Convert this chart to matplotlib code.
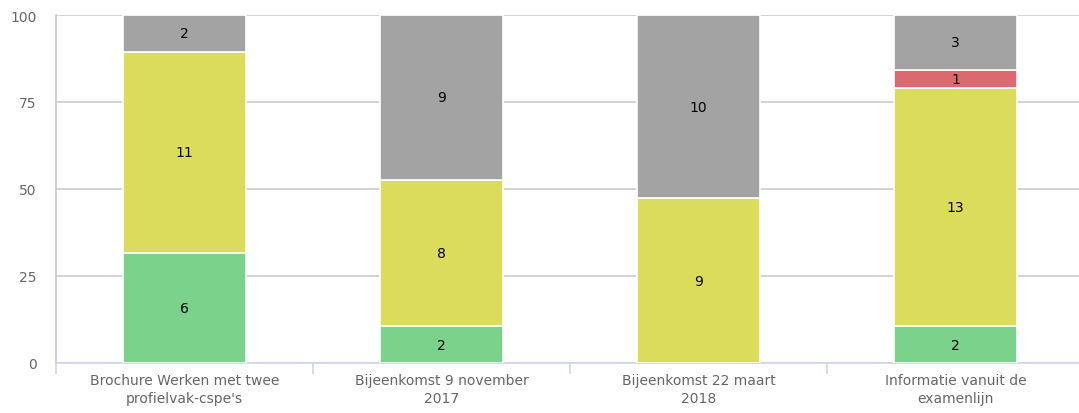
import numpy as np
import matplotlib.pyplot as plt

categories = ["Brochure Werken met twee\nprofielvak-cspe's",
              "Bijeenkomst 9 november\n2017",
              "Bijeenkomst 22 maart\n2018",
              "Informatie vanuit de\nexamenlijn"]
green = [6, 2, 0, 2]
yellow = [11, 8, 9, 13]
red = [0, 0, 0, 1]
gray = [2, 9, 10, 3]

series = [(green, "#7bd38b"), (yellow, "#dcdc5c"), (red, "#dc6870"), (gray, "#a3a3a3")]
totals = np.array(green) + np.array(yellow) + np.array(red) + np.array(gray)

fig = plt.figure(figsize=(10.79, 4.14), dpi=100)
ax = fig.add_axes([56 / 1079, 50 / 414, 1028 / 1079, 348 / 414])

x = np.arange(len(categories))
bottom = np.zeros(len(categories))
for vals, color in series:
    vals = np.array(vals, dtype=float)
    pct = vals / totals * 100
    ax.bar(x, pct, bottom=bottom, width=0.475, color=color,
           edgecolor="white", linewidth=1.2, zorder=3)
    for i in range(len(x)):
        if vals[i] > 0:
            ax.text(x[i], bottom[i] + pct[i] / 2, f"{int(vals[i])}",
                    ha="center", va="center", fontsize=10, color="black", zorder=4)
    bottom += pct

ax.set_xlim(-0.5, 3.5)
ax.set_ylim(0, 100)
ax.set_yticks([0, 25, 50, 75, 100])
ax.yaxis.grid(True, color="#cccccc", linewidth=1.2, zorder=0)
ax.set_axisbelow(True)

for s in ["top", "right"]:
    ax.spines[s].set_visible(False)
ax.spines["left"].set_color("#c8c8c8")
ax.spines["left"].set_linewidth(1.2)
ax.spines["bottom"].set_color("#ccd6eb")
ax.spines["bottom"].set_linewidth(1.2)

ax.tick_params(axis="y", length=0, pad=14, labelsize=10, labelcolor="#666666")
ax.set_xticks(np.arange(-0.5, 4.0, 1.0), minor=False)
ax.set_xticklabels([])
ax.set_xticks(x, minor=True)
ax.set_xticklabels(categories, minor=True, fontsize=10, color="#666666", linespacing=1.4)
ax.tick_params(axis="x", which="major", length=8, color="#ccd6eb", width=1.2)
ax.tick_params(axis="x", which="minor", length=0, pad=7)

fig.savefig("out.png", dpi=100)
